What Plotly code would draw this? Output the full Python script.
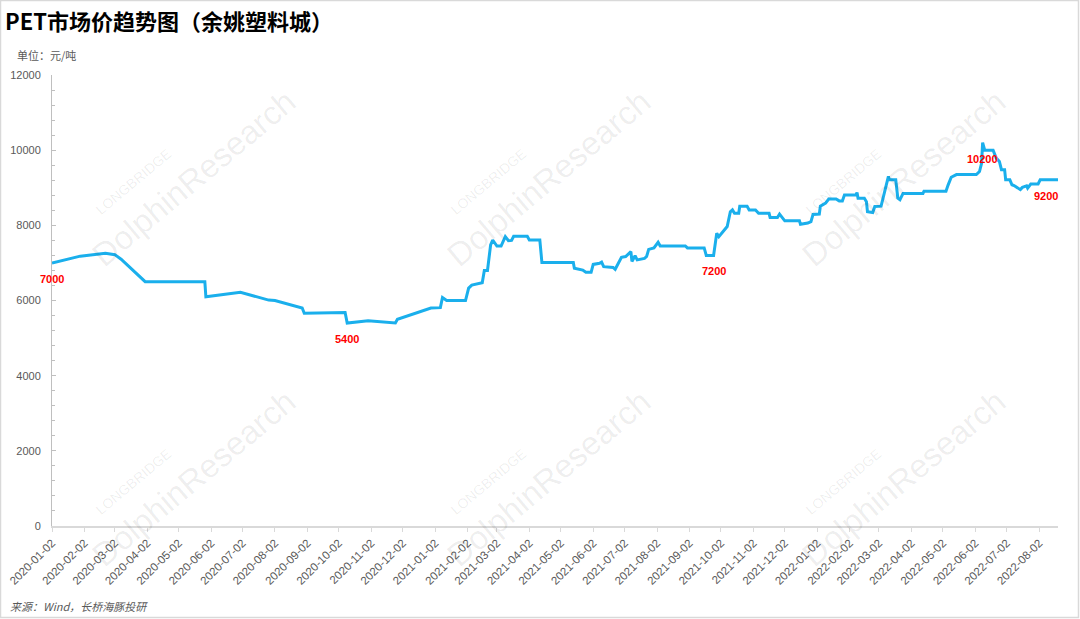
import plotly.graph_objects as go

# ---- data ----
dates = [
    "2020-01-02", "2020-01-29", "2020-02-22", "2020-03-02", "2020-03-08", "2020-03-17", "2020-03-24", "2020-03-31",
    "2020-05-27", "2020-05-28", "2020-06-30", "2020-07-27", "2020-08-02", "2020-08-28", "2020-08-30",
    "2020-10-08", "2020-10-10", "2020-10-30", "2020-11-25", "2020-11-27", "2020-12-29",
    "2021-01-07", "2021-01-09", "2021-01-13", "2021-01-31", "2021-02-03", "2021-02-06", "2021-02-16",
    "2021-02-18", "2021-02-21", "2021-02-24", "2021-02-26", "2021-03-02", "2021-03-06", "2021-03-10",
    "2021-03-13", "2021-03-16", "2021-03-18", "2021-03-31", "2021-04-02", "2021-04-12", "2021-04-14",
    "2021-05-14", "2021-05-15", "2021-05-23", "2021-05-26", "2021-05-31", "2021-06-02", "2021-06-08",
    "2021-06-10", "2021-06-12", "2021-06-21", "2021-06-23", "2021-06-29", "2021-07-03", "2021-07-08",
    "2021-07-09", "2021-07-12", "2021-07-14", "2021-07-21", "2021-07-23", "2021-07-25", "2021-07-30",
    "2021-08-03", "2021-08-05", "2021-08-29", "2021-08-31", "2021-09-16", "2021-09-18", "2021-09-25",
    "2021-09-28", "2021-09-30", "2021-10-08", "2021-10-11", "2021-10-13", "2021-10-15", "2021-10-19",
    "2021-10-20", "2021-10-27", "2021-10-29", "2021-11-04", "2021-11-07", "2021-11-17", "2021-11-18",
    "2021-11-25", "2021-11-27", "2021-12-02", "2021-12-16", "2021-12-17", "2021-12-24", "2021-12-27",
    "2021-12-29", "2022-01-04", "2022-01-05", "2022-01-10", "2022-01-13", "2022-01-20", "2022-01-23",
    "2022-01-26", "2022-01-28", "2022-02-08", "2022-02-09", "2022-02-10", "2022-02-16", "2022-02-18",
    "2022-02-19", "2022-02-24", "2022-02-26", "2022-03-04", "2022-03-07", "2022-03-11", "2022-03-12",
    "2022-03-18", "2022-03-20", "2022-03-22", "2022-03-25", "2022-04-13", "2022-04-14", "2022-05-05",
    "2022-05-07", "2022-05-10", "2022-05-15", "2022-06-03", "2022-06-06", "2022-06-08", "2022-06-09",
    "2022-06-11", "2022-06-19", "2022-06-20", "2022-06-22", "2022-06-25", "2022-06-27", "2022-06-30",
    "2022-07-01", "2022-07-05", "2022-07-07", "2022-07-09", "2022-07-15", "2022-07-17", "2022-07-21",
    "2022-07-22", "2022-07-25", "2022-08-01", "2022-08-03", "2022-08-20",
]
prices = [
    7000, 7180, 7260, 7220, 7100, 6870, 6680, 6500,
    6500, 6100, 6220, 6010, 6000, 5800, 5660,
    5680, 5400, 5460, 5400, 5500, 5800,
    5810, 6080, 6000, 6000, 6330, 6410, 6470,
    6800, 6800, 7480, 7610, 7450, 7450, 7700,
    7590, 7600, 7710, 7710, 7610, 7610, 7010,
    7010, 6860, 6810, 6750, 6750, 6960, 6990,
    7020, 6900, 6880, 6830, 7150, 7170, 7300,
    7040, 7190, 7080, 7120, 7170, 7360, 7400,
    7550, 7450, 7450, 7400, 7400, 7200, 7200,
    7790, 7700, 7970, 8360, 8410, 8320, 8320,
    8510, 8510, 8410, 8410, 8320, 8320, 8210,
    8210, 8300, 8120, 8120, 8030, 8060, 8100,
    8290, 8300, 8510, 8590, 8700, 8700, 8650,
    8650, 8810, 8810, 8870, 8720, 8720, 8630,
    8360, 8340, 8500, 8510, 8850, 9300, 9210,
    9210, 8720, 8680, 8850, 8850, 8910, 8910,
    9070, 9280, 9350, 9350, 9430, 9650, 10200,
    10000, 10000, 9920, 9790, 9700, 9480, 9480,
    9210, 9210, 9080, 9060, 8950, 9010, 9050,
    8990, 9100, 9100, 9210, 9210,
]

tick_dates = [
    "2020-01-02", "2020-02-02", "2020-03-02", "2020-04-02", "2020-05-02", "2020-06-02",
    "2020-07-02", "2020-08-02", "2020-09-02", "2020-10-02", "2020-11-02", "2020-12-02",
    "2021-01-02", "2021-02-02", "2021-03-02", "2021-04-02", "2021-05-02", "2021-06-02",
    "2021-07-02", "2021-08-02", "2021-09-02", "2021-10-02", "2021-11-02", "2021-12-02",
    "2022-01-02", "2022-02-02", "2022-03-02", "2022-04-02", "2022-05-02", "2022-06-02",
    "2022-07-02", "2022-08-02",
]
y_ticks = [0, 2000, 4000, 6000, 8000, 10000, 12000]
y_tick_text = ["0", "2000", "4000", "6000", "8000", "10000", "12000"]

label_dates = ["2020-01-02", "2020-10-10", "2021-09-25", "2022-06-09", "2022-08-09"]
label_values = [7000, 5400, 7200, 10200, 9200]
label_texts = ["7000", "5400", "7200", "10200", "9200"]

title_text = "PET市场价趋势图（余姚塑料城）"
unit_text = "单位：元/吨"
source_text = "来源：Wind，长桥海豚投研"

# ---- layout geometry ----
W, H = 1080, 619
L, R, T, B = 52, 22, 75, 93
PW, PH = W - L - R, H - T - B


def px(x):
    return (x - L) / PW


def py(y):
    return (H - B - y) / PH


fig = go.Figure()
fig.add_trace(go.Scatter(
    x=dates, y=prices, mode="lines",
    line=dict(color="#1AAFEC", width=3),
    hoverinfo="skip", showlegend=False,
))

annotations = []
# watermarks
wm_color = "rgba(0,0,0,0.07)"
for cx, cy in [(0, 0), (355, 0), (710, 0), (0, 300), (355, 300), (710, 300)]:
    annotations.append(dict(
        xref="paper", yref="paper", x=px(133 + cx), y=py(182 + cy),
        text="LONGBRIDGE", showarrow=False, textangle=-40,
        font=dict(family="Liberation Sans", size=14, color=wm_color),
        xanchor="center", yanchor="middle"))
    annotations.append(dict(
        xref="paper", yref="paper", x=px(193 + cx), y=py(178 + cy),
        text="DolphinResearch", showarrow=False, textangle=-40,
        font=dict(family="Liberation Sans", size=33, color=wm_color),
        xanchor="center", yanchor="middle"))

# value labels
for d, v, t in zip(label_dates, label_values, label_texts):
    annotations.append(dict(
        x=d, y=v, xref="x", yref="y", text="<b>" + t + "</b>", showarrow=False,
        yshift=-16, xanchor="center", yanchor="middle",
        font=dict(family="Liberation Sans", size=11, color="#FF0000")))

annotations.append(dict(
    xref="paper", yref="paper", x=px(15), y=py(55), text=unit_text, showarrow=False,
    xanchor="left", yanchor="middle",
    font=dict(family="Noto Sans CJK SC", size=11, color="#595959")))
annotations.append(dict(
    xref="paper", yref="paper", x=px(8), y=py(606), text="<i>" + source_text + "</i>",
    showarrow=False, xanchor="left", yanchor="middle",
    font=dict(family="Noto Sans CJK SC", size=11, color="#595959")))

fig.update_layout(
    width=W, height=H,
    margin=dict(l=L, r=R, t=T, b=B),
    paper_bgcolor="white", plot_bgcolor="white",
    title=dict(text="<b>" + title_text + "</b>", x=5 / W, y=1 - 22 / H,
               xanchor="left", yanchor="middle",
               font=dict(family="Noto Sans CJK SC", size=22, color="#000000")),
    annotations=annotations,
    shapes=[dict(type="rect", xref="paper", yref="paper",
                 x0=px(0.5), x1=px(W - 1.5), y0=py(H - 1.5), y1=py(0.5),
                 line=dict(color="#D9D9D9", width=1.5), layer="below")],
    showlegend=False,
)

fig.update_xaxes(
    type="date", range=["2020-01-02", "2022-08-20"], automargin=False,
    tickvals=tick_dates, ticktext=tick_dates, tickangle=-45,
    tickfont=dict(family="Liberation Sans", size=11.5, color="#595959"),
    showline=True, linecolor="#D9D9D9", linewidth=1.5,
    ticks="outside", ticklen=4, tickcolor="#D9D9D9",
    showgrid=False, zeroline=False,
)
fig.update_yaxes(
    range=[0, 12000], tickvals=y_ticks, ticktext=y_tick_text, automargin=False,
    tickfont=dict(family="Liberation Sans", size=11, color="#595959"),
    ticklabelstandoff=8,
    showline=True, linecolor="#BFBFBF", linewidth=1,
    ticks="inside", ticklen=4, tickcolor="#BFBFBF",
    minor=dict(dtick=400, ticks="inside", ticklen=3, tickcolor="#BFBFBF"),
    showgrid=False, zeroline=False,
)

fig.write_html(
    "out.html",
    config={"displayModeBar": False},
    post_script="document.body.style.margin='0px';document.body.style.overflow='hidden';",
)
